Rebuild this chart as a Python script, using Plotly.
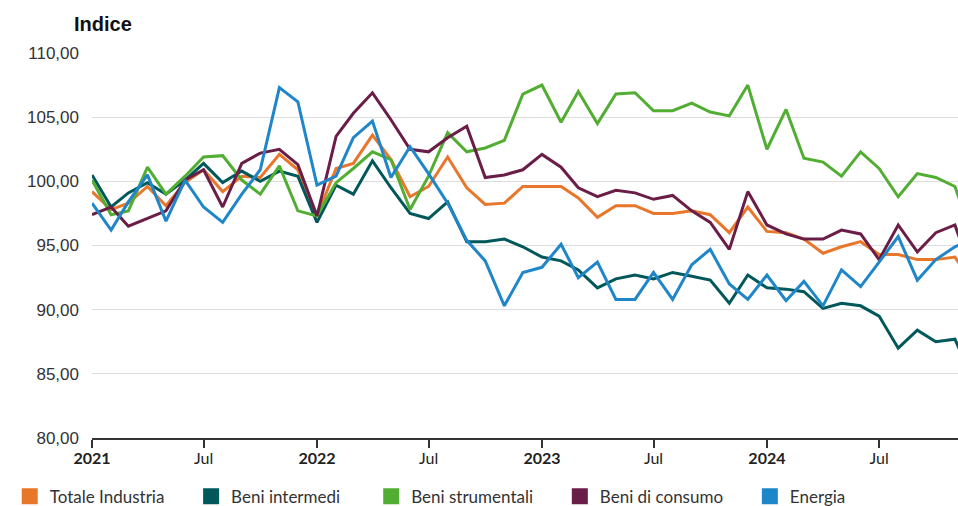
import pandas as pd
import plotly.graph_objects as go

months = pd.date_range("2021-01-01", "2024-12-01", freq="MS")

totale_industria = [99.2, 97.8, 98.3, 99.6, 98.1, 99.9, 100.9, 99.2, 100.4, 100.3, 102.1, 100.9,
                    97.3, 101.0, 101.4, 103.6, 101.7, 98.8, 99.6, 101.9, 99.5, 98.2, 98.3, 99.6,
                    99.6, 99.6, 98.7, 97.2, 98.1, 98.1, 97.5, 97.5, 97.7, 97.4, 96.0, 98.0,
                    96.1, 96.0, 95.5, 94.4, 94.9, 95.3, 94.3, 94.3, 93.9, 93.9, 94.1, 92.0]
beni_intermedi = [100.5, 98.0, 99.1, 99.9, 99.0, 100.1, 101.4, 99.9, 100.8, 100.0, 100.8, 100.4,
                  96.8, 99.7, 99.0, 101.6, 99.5, 97.5, 97.1, 98.4, 95.3, 95.3, 95.5, 94.9,
                  94.1, 93.8, 93.1, 91.7, 92.4, 92.7, 92.4, 92.9, 92.6, 92.3, 90.5, 92.7,
                  91.7, 91.6, 91.4, 90.1, 90.5, 90.3, 89.5, 87.0, 88.4, 87.5, 87.7, 84.5]
beni_strumentali = [100.1, 97.4, 97.7, 101.1, 99.0, 100.4, 101.9, 102.0, 100.1, 99.0, 101.2, 97.7,
                    97.3, 99.9, 101.0, 102.3, 101.7, 97.8, 100.4, 103.8, 102.3, 102.6, 103.2, 106.8,
                    107.5, 104.6, 107.0, 104.5, 106.8, 106.9, 105.5, 105.5, 106.1, 105.4, 105.1, 107.5,
                    102.5, 105.6, 101.8, 101.5, 100.4, 102.3, 101.0, 98.8, 100.6, 100.3, 99.6, 95.5]
beni_consumo = [97.4, 98.0, 96.5, 97.1, 97.7, 100.1, 100.9, 98.0, 101.4, 102.2, 102.5, 101.3,
                97.3, 103.5, 105.3, 106.9, 104.8, 102.5, 102.3, 103.4, 104.3, 100.3, 100.5, 100.9,
                102.1, 101.1, 99.5, 98.8, 99.3, 99.1, 98.6, 98.9, 97.7, 96.8, 94.7, 99.2,
                96.6, 95.9, 95.5, 95.5, 96.2, 95.9, 93.9, 96.6, 94.5, 96.0, 96.6, 92.5]
energia = [98.3, 96.2, 98.4, 100.5, 96.9, 100.1, 98.0, 96.8, 99.0, 100.9, 107.3, 106.2,
           99.7, 100.4, 103.4, 104.7, 100.3, 102.7, 100.6, 98.3, 95.4, 93.8, 90.3, 92.9,
           93.3, 95.1, 92.5, 93.7, 90.8, 90.8, 92.9, 90.8, 93.5, 94.7, 92.0, 90.8,
           92.7, 90.7, 92.2, 90.3, 93.1, 91.8, 93.7, 95.7, 92.3, 93.9, 94.9, 95.5]

series_names = ["Totale Industria", "Beni intermedi", "Beni strumentali", "Beni di consumo", "Energia"]
series_values = [totale_industria, beni_intermedi, beni_strumentali, beni_consumo, energia]
colors = ["#E8762B", "#00585A", "#52AE32", "#6A1E47", "#1F86C9"]
legend_pad = [5, 6, 5, 5, 0]  # trailing non-breaking spaces for legend spacing

tick_dates = ["2021-01-01", "2021-07-01", "2022-01-01", "2022-07-01",
              "2023-01-01", "2023-07-01", "2024-01-01", "2024-07-01"]
tick_labels = ["<b>2021</b>", "Jul", "<b>2022</b>", "Jul", "<b>2023</b>", "Jul", "<b>2024</b>", "Jul"]

fig = go.Figure()
for name, vals, col in zip(series_names, series_values, colors):
    fig.add_trace(go.Scatter(x=months, y=vals, mode="lines", name=name,
                             line=dict(color=col, width=3), showlegend=False,
                             hovertemplate="%{y:.2f}<extra>" + name + "</extra>"))
for name, col, pad in zip(series_names, colors, legend_pad):
    fig.add_trace(go.Scatter(x=[None], y=[None], mode="markers", name=name + "\u00a0" * pad,
                             marker=dict(symbol="square", size=16, color=col),
                             showlegend=True, hoverinfo="skip"))

fig.update_layout(
    width=958, height=506, autosize=False,
    margin=dict(l=92, r=0, t=53, b=68, autoexpand=False),
    paper_bgcolor="white", plot_bgcolor="white",
    separators=",.",
    font=dict(family="Liberation Sans, Arial, sans-serif", color="#333"),
    xaxis=dict(
        type="date", range=["2021-01-01", "2024-11-06"],
        tickvals=tick_dates, ticktext=tick_labels,
        showgrid=False, zeroline=False,
        showline=True, linecolor="#333", linewidth=2,
        ticks="outside", ticklen=8, tickwidth=1.5, tickcolor="#333",
        ticklabelstandoff=-3,
        tickfont=dict(family="Lato, sans-serif", size=16, color="#222"),
    ),
    yaxis=dict(
        range=[80, 110], dtick=5, tick0=80, tickformat=".2f",
        showgrid=True, gridcolor="#dddddd", gridwidth=1,
        zeroline=False, showline=False, ticks="",
        ticklabelstandoff=12,
        tickfont=dict(family="Liberation Sans, Arial, sans-serif", size=17, color="#333"),
    ),
    legend=dict(orientation="h",
                x=-0.095, xanchor="left", y=-0.106, yanchor="top",
                font=dict(family="Lato, sans-serif", size=17, color="#333"),
                itemsizing="trace", bgcolor="rgba(0,0,0,0)"),
    annotations=[dict(text="<b>Indice</b>", xref="paper", yref="paper",
                      x=-0.023, xanchor="left", y=1.0, yanchor="bottom", yshift=16,
                      showarrow=False,
                      font=dict(family="Liberation Sans, Arial, sans-serif", size=20, color="#111"))],
)

fig.write_html("out.html")
